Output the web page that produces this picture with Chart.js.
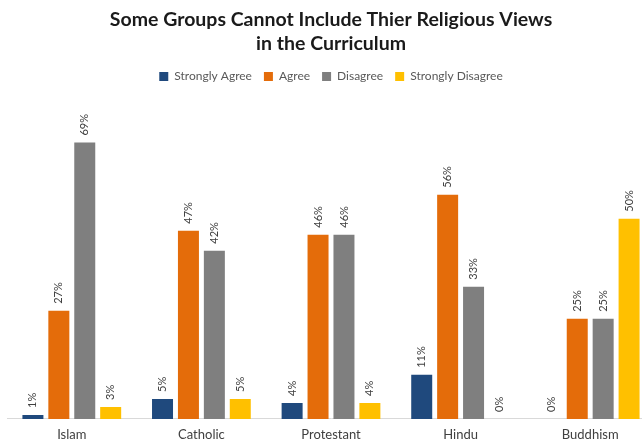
<!DOCTYPE html>
<html>
<head>
<meta charset="utf-8">
<script src="https://cdn.jsdelivr.net/npm/chart.js@4"></script>
<style>
  html, body { margin: 0; padding: 0; background: #fff; overflow: hidden; }
  #wrap { width: 660px; height: 442px; position: relative; }
</style>
</head>
<body>
<div id="wrap"><canvas id="views"></canvas></div>
<script>
const groups = ['Islam', 'Catholic', 'Protestant', 'Hindu', 'Buddhism'];
const stronglyAgree = [1, 5, 4, 11, 0];
const agree = [27, 47, 46, 56, 25];
const disagree = [69, 42, 46, 33, 25];
const stronglyDisagree = [3, 5, 4, 0, 50];

// percent labels standing on top of each bar, turned sideways
const barLabels = {
    id: 'barLabels',
    afterDatasetsDraw(chart) {
        const ctx = chart.ctx;
        ctx.save();
        ctx.font = '11px Lato, "Open Sans", sans-serif';
        ctx.fillStyle = '#404040';
        ctx.textAlign = 'left';
        ctx.textBaseline = 'middle';
        chart.data.datasets.forEach((ds, i) => {
            chart.getDatasetMeta(i).data.forEach((bar, j) => {
                ctx.save();
                ctx.translate(bar.x, bar.y - 7);
                ctx.rotate(-Math.PI / 2);
                ctx.fillText(ds.data[j] + '%', 0, 0);
                ctx.restore();
            });
        });
        ctx.restore();
    }
};

const ctx = document.getElementById('views').getContext('2d');
new Chart(ctx, {
    type: 'bar',
    data: {
        labels: groups,
        datasets: [
            { label: 'Strongly Agree', data: stronglyAgree, backgroundColor: '#1F497D' },
            { label: 'Agree', data: agree, backgroundColor: '#E46C0A' },
            { label: 'Disagree', data: disagree, backgroundColor: '#7F7F7F' },
            { label: 'Strongly Disagree', data: stronglyDisagree, backgroundColor: '#FFC000' }
        ]
    },
    options: {
        responsive: true,
        maintainAspectRatio: false,
        animation: false,
        events: [],
        datasets: {
            bar: { categoryPercentage: 0.8, barPercentage: 0.81 }
        },
        layout: { padding: { left: 7, right: 5, top: 5, bottom: -8.5 } },
        plugins: {
            title: {
                display: true,
                text: ['Some Groups Cannot Include Thier Religious Views', 'in the Curriculum'],
                color: '#1a1a1a',
                font: { family: 'Lato, "Open Sans", sans-serif', size: 19.5, weight: 'bold', lineHeight: 1.27 },
                padding: { top: 2, bottom: 2 }
            },
            legend: {
                labels: {
                    boxWidth: 9,
                    boxHeight: 9,
                    color: '#595959',
                    padding: 12,
                    font: { family: 'Lato, "Open Sans", sans-serif', size: 12 }
                }
            },
            tooltip: { enabled: false }
        },
        scales: {
            x: {
                grid: { display: false, drawTicks: false },
                border: { display: true, color: '#D9D9D9', width: 1 },
                ticks: {
                    color: '#404040',
                    padding: 8,
                    font: { family: 'Lato, "Open Sans", sans-serif', size: 13 }
                }
            },
            y: {
                display: false,
                min: 0,
                max: 81.5
            }
        }
    },
    plugins: [barLabels]
});
</script>
</body>
</html>
